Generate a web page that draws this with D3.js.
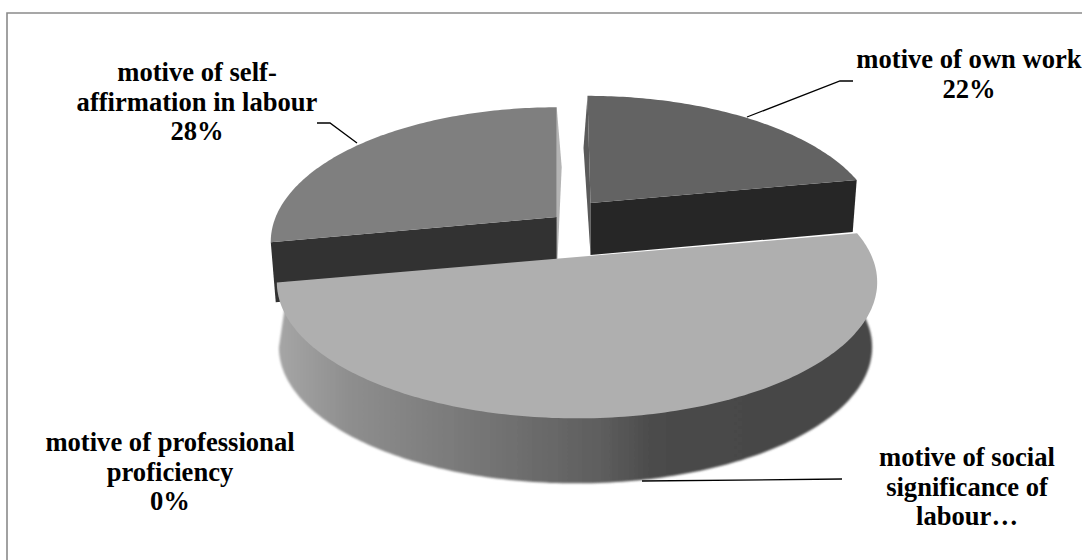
<!DOCTYPE html>
<html>
<head>
<meta charset="utf-8">
<script src="https://cdn.jsdelivr.net/npm/d3@7/dist/d3.min.js"></script>
<style>
  html, body { margin: 0; padding: 0; background: #fff; overflow: hidden; }
  svg { display: block; }
  text { font-family: "Liberation Serif", serif; font-weight: bold; font-size: 26.6px; fill: #000; text-anchor: middle; }
</style>
</head>
<body>
<svg id="chart" width="1082" height="560"></svg>
<script>
// Share of each work motive, in per cent, clockwise from twelve o'clock
const categories = [
  "motive of own work",
  "motive of social significance of labour",
  "motive of professional proficiency",
  "motive of self-affirmation in labour"
];
const shares = [22, 50, 0, 28];

// Wrapped label text for each motive; the value line is added where shown
const labelRows = [
  ["motive of own work"],
  ["motive of social", "significance of", "labour…"],
  ["motive of professional", "proficiency"],
  ["motive of self-", "affirmation in labour"]
];
const showsValue = [true, false, true, true];

// Look of each wedge: top face, cut face, exploded position and tilted radii
const faceTones = ["#636363", "#afafaf", "#888888", "#7f7f7f"];
const wallTones = ["#282828", "#4a4a4a", "#444444", "#313131"];
const wedgeFrames = [
  { cx: 590.5, cy: 203, rx: 281, tilt: 127, depth: 52, lean: -4, skew: -3 },
  { cx: 577, cy: 257, rx: 295, tilt: 131.5, depth: 65, lean: -1.5, skew: 0 },
  { cx: 577, cy: 257, rx: 295, tilt: 131.5, depth: 65, lean: 0, skew: 0 },
  { cx: 556.7, cy: 217, rx: 281, tilt: 130, depth: 60, lean: 5, skew: 0 }
];
const lowerRimWidth = 291.5;
const labelAnchors = [[969, 68], [967, 466], [170, 451], [197, 81]];
const leaders = [
  [[747, 117], [840, 81], [853, 81]],
  [[642, 481], [842, 479]],
  [],
  [[357, 143], [330, 123], [317, 123]]
];
const sideStops = [
  [278, "#a6a6a6"], [350, "#8e8e8e"], [430, "#7f7f7f"], [520, "#6e6e6e"],
  [600, "#5e5e5e"], [650, "#4c4c4c"], [700, "#484848"], [875, "#474747"]
];

const perspective = 0.185;   // how much nearer the front rim is than the back one
const lineHeight = 29.5;

const svg = d3.select("#chart");
const defs = svg.append("defs");

defs.append("filter").attr("id", "soft")
  .attr("x", "-5%").attr("y", "-5%").attr("width", "110%").attr("height", "110%")
  .append("feGaussianBlur").attr("stdDeviation", 0.6);
defs.append("filter").attr("id", "softer")
  .attr("x", "-5%").attr("y", "-5%").attr("width", "110%").attr("height", "110%")
  .append("feGaussianBlur").attr("stdDeviation", 1.1);

const sideGradient = defs.append("linearGradient").attr("id", "rimShade")
  .attr("gradientUnits", "userSpaceOnUse")
  .attr("x1", sideStops[0][0]).attr("x2", sideStops[sideStops.length - 1][0])
  .attr("y1", 0).attr("y2", 0);
const stopOffset = d3.scaleLinear()
  .domain([sideStops[0][0], sideStops[sideStops.length - 1][0]]).range([0, 1]);
sideGradient.selectAll("stop").data(sideStops).join("stop")
  .attr("offset", d => stopOffset(d[0]))
  .attr("stop-color", d => d[1]);

// Frame around the plot: only the top and left rules fall inside the page
svg.append("path")
  .attr("d", "M7,560V13H1082")
  .attr("fill", "none").attr("stroke", "#8a8a8a").attr("stroke-width", 1.6);

const pieLayout = d3.pie().sort(null).value(d => d)
  .startAngle(0).endAngle(2 * Math.PI);
const arcs = pieLayout(shares);

// Project an angle on the disc to the page, with a simple one-point perspective
function rimPoint(frame, angle, drop, width) {
  const w = 1 + perspective * Math.cos(angle);
  return [
    frame.cx + frame.skew * Math.max(0, Math.cos(angle)) + (width || frame.rx) * Math.sin(angle) / w,
    frame.cy + (drop || 0) - frame.tilt * Math.cos(angle) / w
  ];
}
function rimSamples(frame, a0, a1, drop, width) {
  const steps = Math.max(2, Math.ceil((a1 - a0) * 60));
  return d3.range(steps + 1).map(i =>
    rimPoint(frame, a0 + (a1 - a0) * i / steps, drop, width));
}
const outline = d3.line().curve(d3.curveLinear);

const pieGroup = svg.append("g").attr("filter", "url(#soft)");

// Rear wedges first, big front wedge over them
const drawOrder = [3, 0, 1].filter(i => shares[i] > 0);

drawOrder.forEach(i => {
  const arc = arcs[i];
  const f = wedgeFrames[i];
  const a0 = arc.startAngle, a1 = arc.endAngle;
  const apex = [f.cx, f.cy];
  const apexDown = [f.cx, f.cy + f.depth];
  const down = p => [p[0] + f.lean, p[1] + f.depth];
  const topRim = rimSamples(f, a0, a1);

  if (i === 1) {
    // Curved outer side of the front wedge, its upper edge tucked under the top face
    const tucked = { ...f, rx: f.rx * 0.96, tilt: f.tilt * 0.9 };
    const upperEdge = rimSamples(tucked, a0, a1);
    const lowerRim = rimSamples({ ...f, cx: f.cx + f.lean }, a0, a1, f.depth, lowerRimWidth);
    pieGroup.append("path")
      .attr("d", outline(upperEdge.concat(lowerRim.slice().reverse())) + "Z")
      .attr("fill", "url(#rimShade)")
      .attr("filter", "url(#softer)");
  } else {
    // Both cut faces of a rear wedge; each one is visible only in the gap or beside it
    const backEdge = i === 0 ? topRim[0] : topRim[topRim.length - 1];
    const sideEdge = i === 0 ? topRim[topRim.length - 1] : topRim[0];
    pieGroup.append("path")
      .attr("d", outline([backEdge, apex, apexDown, down(backEdge)]) + "Z")
      .attr("fill", i === 0 ? "#5a5a5a" : "#b4b4b4");
    pieGroup.append("path")
      .attr("d", outline([apex, sideEdge, down(sideEdge), apexDown]) + "Z")
      .attr("fill", wallTones[i]);
  }

  pieGroup.append("path")
    .attr("d", outline(i === 1 ? topRim : [apex].concat(topRim)) + "Z")
    .attr("fill", faceTones[i]);
});

// Leader lines
svg.append("g").selectAll("path")
  .data(leaders.filter(l => l.length))
  .join("path")
  .attr("d", d => outline(d))
  .attr("fill", "none").attr("stroke", "#000").attr("stroke-width", 1.3);

// Category labels, with the value as the last row where it is shown
const labels = svg.append("g").selectAll("text")
  .data(categories)
  .join("text")
  .attr("aria-label", d => d)
  .attr("transform", (d, i) => `translate(${labelAnchors[i][0]},${labelAnchors[i][1]})`);

labels.selectAll("tspan")
  .data((d, i) => showsValue[i] ? labelRows[i].concat(`${shares[i]}%`) : labelRows[i])
  .join("tspan")
  .attr("x", 0)
  .attr("y", (d, i) => i * lineHeight)
  .text(d => d);
</script>
</body>
</html>
